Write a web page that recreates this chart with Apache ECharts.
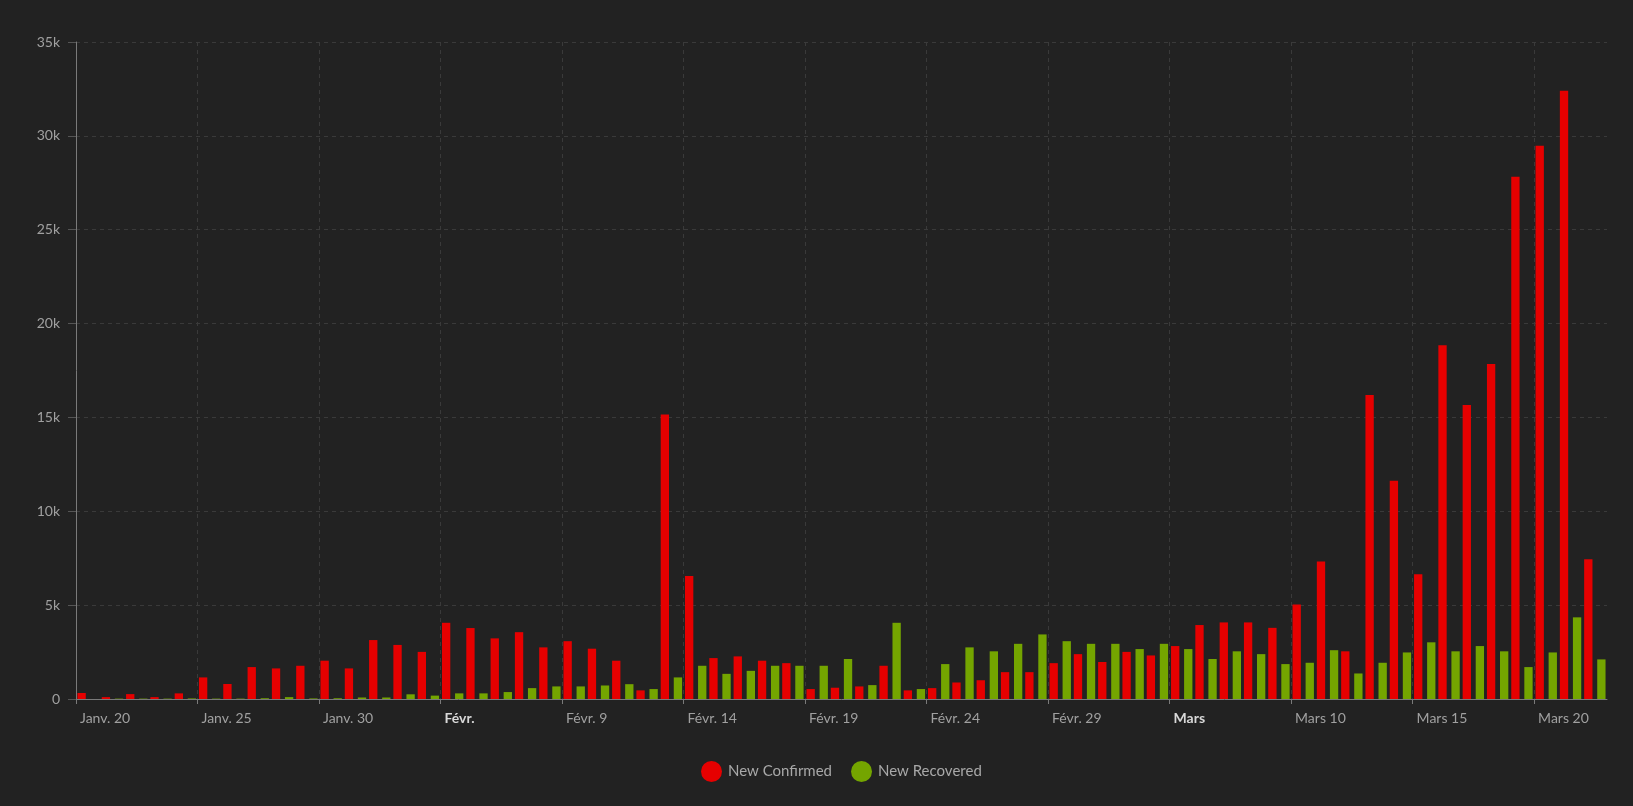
<!DOCTYPE html>
<html>
<head>
<meta charset="utf-8">
<script src="https://cdn.jsdelivr.net/npm/echarts@6/dist/echarts.min.js"></script>
<style>
html,body{margin:0;padding:0;background:#222222;}
#chart{width:1633px;height:806px;}
</style>
</head>
<body>
<div id="chart"></div>
<script>
// Days: Jan 20 .. Mar 22 (63 days)
const days = [
 'Janv. 20','Janv. 21','Janv. 22','Janv. 23','Janv. 24','Janv. 25','Janv. 26','Janv. 27','Janv. 28','Janv. 29','Janv. 30','Janv. 31',
 'Févr. 1','Févr. 2','Févr. 3','Févr. 4','Févr. 5','Févr. 6','Févr. 7','Févr. 8','Févr. 9','Févr. 10','Févr. 11','Févr. 12','Févr. 13','Févr. 14','Févr. 15','Févr. 16','Févr. 17','Févr. 18','Févr. 19','Févr. 20','Févr. 21','Févr. 22','Févr. 23','Févr. 24','Févr. 25','Févr. 26','Févr. 27','Févr. 28','Févr. 29',
 'Mars 1','Mars 2','Mars 3','Mars 4','Mars 5','Mars 6','Mars 7','Mars 8','Mars 9','Mars 10','Mars 11','Mars 12','Mars 13','Mars 14','Mars 15','Mars 16','Mars 17','Mars 18','Mars 19','Mars 20','Mars 21','Mars 22'
];
const newConfirmed = [
 320,100,260,100,300,1150,800,1700,1630,1770,2040,1630,
 3140,2880,2510,4060,3780,3230,3560,2750,3080,2680,2040,460,15150,6550,2180,2270,2040,1910,530,600,670,1770,460,580,880,1000,1430,1430,1910,
 2390,1970,2510,2320,2820,3940,4080,4080,3790,5040,7330,2540,16200,11630,6640,18850,15660,17840,27820,29470,32400,7450
];
const newRecovered = [
 0,20,20,20,30,20,20,40,100,30,40,80,
 80,250,180,300,300,370,580,670,670,720,790,530,1150,1770,1340,1500,1770,1770,1770,2130,740,4060,530,1860,2750,2540,2940,3440,3080,
 2940,2940,2660,2940,2660,2130,2540,2390,1860,1930,2600,1360,1930,2480,3020,2540,2820,2540,1700,2480,4350,2110
];
// Tick labels every 5 days (at day boundaries)
const tickLabels = ['Janv. 20','Janv. 25','Janv. 30','Févr.','Févr. 9','Févr. 14','Févr. 19','Févr. 24','Févr. 29','Mars','Mars 10','Mars 15','Mars 20'];
const boldTickLabels = ['Févr.','Mars'];
const tickStep = 5;
const yTicks = [0,5000,10000,15000,20000,25000,30000,35000];

const boundaries = [];
for (let i = 0; i <= days.length; i++) {
  boundaries.push(i % tickStep === 0 && tickLabels[i / tickStep] ? tickLabels[i / tickStep] : '');
}
const isTick = (idx) => idx % tickStep === 0 && idx / tickStep < tickLabels.length;

const chart = echarts.init(document.getElementById('chart'), null, {renderer:'canvas'});
chart.setOption({
  backgroundColor: '#222222',
  animation: false,
  textStyle: {fontFamily: 'Lato, "Noto Sans", sans-serif'},
  grid: {left: 76, right: 26, top: 42, bottom: 107, containLabel: false},
  legend: {
    data: ['New Confirmed','New Recovered'],
    left: 701, top: 761, padding: 0,
    icon: 'circle', itemWidth: 21, itemHeight: 21, itemGap: 19,
    textStyle: {color: '#a8a8a8', fontSize: 15, padding: [0,0,0,1], fontFamily: 'Lato, "Noto Sans", sans-serif'}
  },
  xAxis: [
    {
      type: 'category', data: days, position: 'top', boundaryGap: true,
      axisLine: {show: false}, axisTick: {show: false}, axisLabel: {show: false}, splitLine: {show: false}
    },
    {
      type: 'category', data: boundaries, position: 'bottom', boundaryGap: false,
      axisLine: {show: true, lineStyle: {color: '#7a7a7a', width: 1}},
      axisTick: {show: true, length: 5, interval: (idx) => isTick(idx), lineStyle: {color: '#7a7a7a'}},
      axisLabel: {
        show: true, interval: (idx) => isTick(idx), align: 'left', margin: 12, padding: [0,0,0,4],
        color: '#a0a0a0', fontSize: 14,
        formatter: (v) => boldTickLabels.includes(v) ? '{b|' + v + '}' : v,
        rich: {b: {fontWeight: 'bold', color: '#d8d8d8', fontSize: 14}}
      },
      splitLine: {show: true, interval: (idx) => isTick(idx) && idx > 0, lineStyle: {color: '#3a3a3a', type: [4,4], width: 1}}
    }
  ],
  yAxis: {
    type: 'value', min: 0, max: 35000, interval: 5000,
    axisLine: {show: true, lineStyle: {color: '#7a7a7a'}},
    axisTick: {show: true, length: 8, lineStyle: {color: '#555555'}},
    axisLabel: {color: '#a0a0a0', fontSize: 14, margin: 16,
      formatter: (v) => yTicks.includes(v) ? (v === 0 ? '0' : (v / 1000) + 'k') : ''},
    splitLine: {show: true, lineStyle: {color: '#3a3a3a', type: [4,4], width: 1}}
  },
  series: [
    {name: 'New Confirmed', type: 'bar', xAxisIndex: 0, data: newConfirmed, barGap: '57%', barCategoryGap: '12%', itemStyle: {color: '#e60000'}},
    {name: 'New Recovered', type: 'bar', xAxisIndex: 0, data: newRecovered, barGap: '57%', barCategoryGap: '12%', itemStyle: {color: '#74a500'}}
  ]
});
</script>
</body>
</html>
